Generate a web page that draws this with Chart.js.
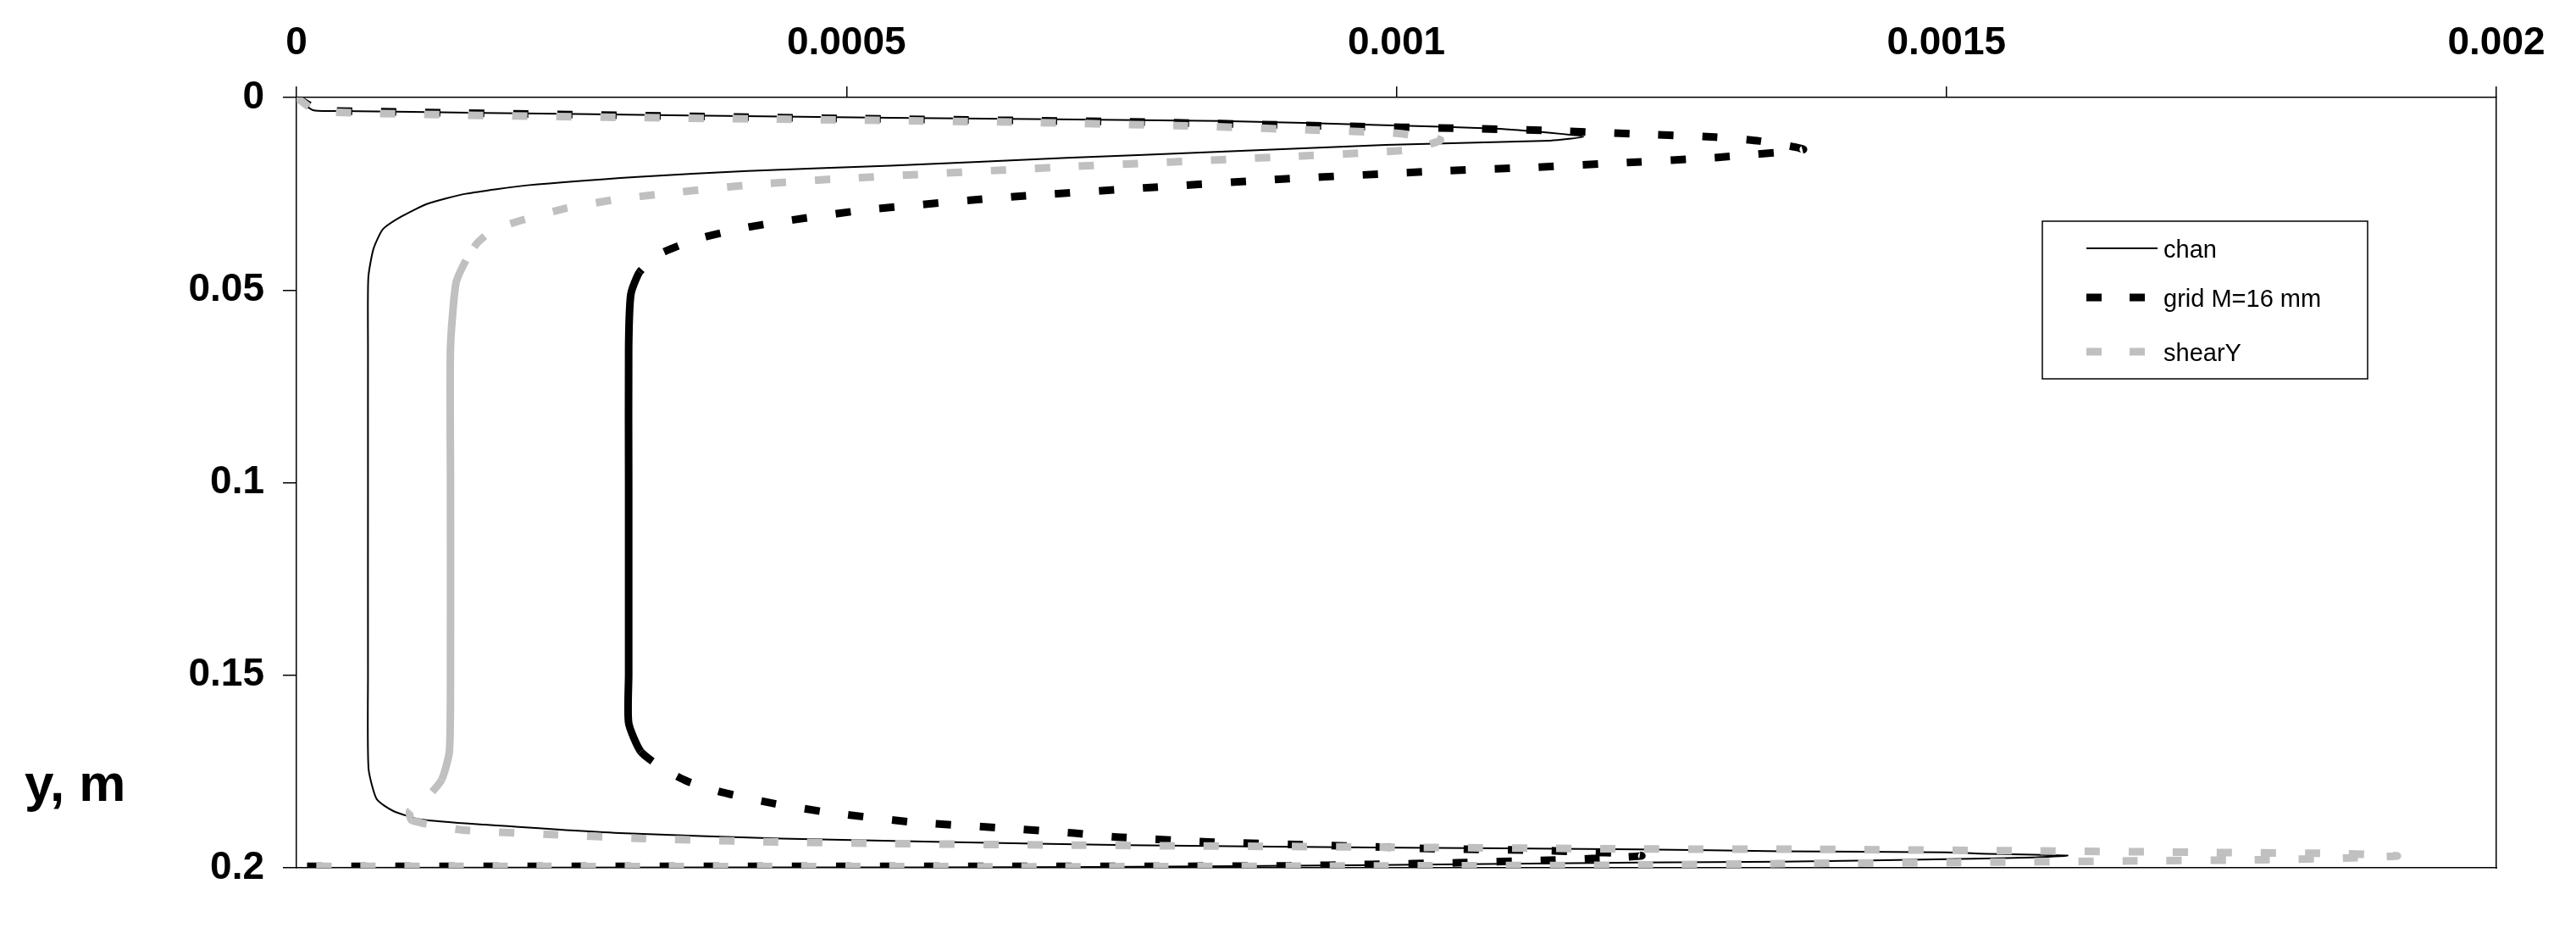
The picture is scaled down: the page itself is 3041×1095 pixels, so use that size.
<!DOCTYPE html>
<html>
<head>
<meta charset="utf-8">
<script src="https://cdn.jsdelivr.net/npm/chart.js@4.4.1/dist/chart.umd.min.js"></script>
<style>
  html, body { margin: 0; padding: 0; background: #fff; }
  #wrap { width: 3041px; height: 1095px; }
</style>
</head>
<body>
<div id="wrap"><canvas id="profile" width="3041" height="1095"></canvas></div>
<script>
// ========== DATA ==========
const seriesNames = ['chan', 'grid M=16 mm', 'shearY'];

const chanX = [0, 0.000015, 0.00004, 0.00017, 0.00034, 0.00054, 0.00084, 0.00099, 0.00109, 0.00114, 0.00117,
  0.00114, 0.00099, 0.00084, 0.0007, 0.00054, 0.00041, 0.00031, 0.00021, 0.000154, 0.000119, 0.0000955,
  0.0000786, 0.00007, 0.0000653, 0.000065, 0.000065, 0.000065, 0.0000655, 0.000073, 0.0000877, 0.000112,
  0.000171, 0.000294, 0.000441, 0.000589, 0.000756, 0.000977, 0.00122, 0.00135, 0.0015, 0.00153, 0.00161,
  0.00158, 0.00149, 0.00135, 0.00122, 0.00098, 0.00073, 0.0004, 0];
const chanY = [0, 0.0033, 0.0035, 0.004, 0.0046, 0.0053, 0.0061, 0.0072, 0.0081, 0.0092, 0.0102,
  0.0112, 0.0123, 0.0141, 0.0157, 0.0177, 0.0191, 0.0206, 0.0228, 0.025, 0.0276, 0.0309,
  0.0342, 0.0393, 0.0468, 0.065, 0.1, 0.15, 0.1742, 0.1822, 0.1852, 0.1874,
  0.1888, 0.191, 0.1924, 0.1933, 0.1941, 0.1947, 0.1952, 0.1957, 0.196, 0.1963, 0.1968,
  0.1973, 0.1978, 0.1984, 0.1986, 0.1993, 0.1998, 0.1999, 0.2];

const gridX = [0, 0.00002, 0.00003, 0.00051, 0.00075, 0.00094, 0.00107, 0.00114, 0.00123, 0.00129, 0.00133, 0.00137,
  0.00132, 0.00129, 0.00121, 0.00112, 0.00104, 0.00089, 0.00077, 0.00065, 0.00052, 0.000446, 0.000408,
  0.000364, 0.000329, 0.000312, 0.000304, 0.000302, 0.000302, 0.000302, 0.000302, 0.000313, 0.000333,
  0.000355, 0.000387, 0.000434, 0.000481, 0.000559, 0.000638, 0.000707, 0.000746, 0.000829, 0.000928,
  0.001045, 0.001124, 0.001163, 0.001203, 0.001223, 0.001178, 0.001139, 0.001055, 0.000977, 0.000898,
  0.00078, 0];
const gridY = [0, 0.0033, 0.0035, 0.0055, 0.0063, 0.0074, 0.0081, 0.0086, 0.0096, 0.0103, 0.0113, 0.0135,
  0.0149, 0.0156, 0.0169, 0.0182, 0.0191, 0.0213, 0.0235, 0.0258, 0.0291, 0.032, 0.0338,
  0.0368, 0.0408, 0.0453, 0.0511, 0.065, 0.1, 0.15, 0.1624, 0.1698, 0.1742,
  0.1775, 0.1804, 0.1833, 0.1855, 0.1881, 0.1896, 0.191, 0.192, 0.1933, 0.1941,
  0.1951, 0.1954, 0.1958, 0.1962, 0.1969, 0.1976, 0.198, 0.1987, 0.1991, 0.1995,
  0.1996, 0.1996];

const shearX = [0, 0.00002, 0.00054, 0.00065, 0.0008, 0.00092, 0.001, 0.00104,
  0.00101, 0.00089, 0.0007, 0.0005, 0.00042, 0.00034, 0.00029, 0.00024, 0.00018, 0.000164,
  0.000154, 0.000145, 0.00014, 0.00014, 0.00014, 0.000139, 0.000132, 0.000117, 0.000103,
  0.000105, 0.000152, 0.000237, 0.000316, 0.000437, 0.00054, 0.0007, 0.00098, 0.00122,
  0.00138, 0.00158, 0.00174, 0.00186, 0.00191, 0.00187, 0.00179, 0.00167, 0.00151,
  0.00135, 0.00122, 0.00098, 0.00073, 0];
const shearY = [0, 0.0037, 0.006, 0.0064, 0.0073, 0.0084, 0.0093, 0.011,
  0.0136, 0.0155, 0.018, 0.021, 0.0225, 0.0248, 0.0265, 0.0291, 0.0342, 0.0379,
  0.0423, 0.0482, 0.065, 0.1, 0.15, 0.1698, 0.1771, 0.1822, 0.1852,
  0.1877, 0.1902, 0.1914, 0.1924, 0.1933, 0.1937, 0.1941, 0.1946, 0.1951,
  0.1952, 0.1956, 0.196, 0.1963, 0.1969, 0.1974, 0.1979, 0.1982, 0.1986,
  0.1989, 0.1993, 0.1995, 0.1997, 0.1996];

const xTickValues = [0, 0.0005, 0.001, 0.0015, 0.002];
const xTickLabels = ['0', '0.0005', '0.001', '0.0015', '0.002'];
const yTickValues = [0, 0.05, 0.1, 0.15, 0.2];
const yTickLabels = ['0', '0.05', '0.1', '0.15', '0.2'];
const yAxisTitle = 'y, m';

// ========== HELPERS ==========
function toPoints(xs, ys) {
    return xs.map((x, i) => ({ x: x, y: ys[i] }));
}

// label for the nearest listed tick value
function labelFor(values, labels) {
    return v => {
        let best = 0;
        values.forEach((t, i) => {
            if (Math.abs(t - v) < Math.abs(values[best] - v)) best = i;
        });
        return labels[best];
    };
}

// Excel restarts the dash on every segment, so the dense steep parts look solid
function excelDash(pattern) {
    return ctx => {
        const dx = Math.abs(ctx.p1.x - ctx.p0.x);
        const dy = Math.abs(ctx.p1.y - ctx.p0.y);
        return dy > 2 * dx ? [] : pattern;
    };
}

const DASH = [18, 34];
const FONT = '"Liberation Sans", Arial, sans-serif';

// ========== LEGEND BOX ==========
const boxLegend = {
    id: 'boxLegend',
    afterDatasetsDraw(chart) {
        const c = chart.ctx;
        const area = chart.chartArea;
        const left = area.right - 536;
        const top = area.top + 146;
        c.save();
        c.fillStyle = '#fff';
        c.fillRect(left, top, 384, 186);
        c.strokeStyle = '#000';
        c.lineWidth = 1.5;
        c.strokeRect(left, top, 384, 186);
        const rows = [32, 90, 154];
        chart.data.datasets.forEach((ds, i) => {
            const y = top + rows[i];
            c.beginPath();
            c.strokeStyle = ds.borderColor;
            c.lineWidth = ds.borderWidth;
            c.lineCap = 'butt';
            c.setLineDash(ds.legendDash || []);
            c.moveTo(left + 52, y);
            c.lineTo(left + 136, y);
            c.stroke();
            c.setLineDash([]);
            c.fillStyle = '#000';
            c.font = '29px ' + FONT;
            c.textBaseline = 'alphabetic';
            c.textAlign = 'left';
            c.fillText(ds.label, left + 143, y + 11);
        });
        c.restore();
    }
};

// ========== Y TITLE ==========
const yTitle = {
    id: 'yTitle',
    afterDraw(chart) {
        const c = chart.ctx;
        c.save();
        c.fillStyle = '#000';
        c.font = 'bold 62px ' + FONT;
        c.textAlign = 'left';
        c.textBaseline = 'alphabetic';
        c.fillText(yAxisTitle, 29, 945);
        c.restore();
    }
};

// ========== CHART ==========
const frame = { display: true, color: '#000', width: 1.5 };
const tickFont = { family: FONT, size: 46, weight: 'bold' };

new Chart(document.getElementById('profile'), {
    type: 'scatter',
    data: {
        datasets: [
            {
                label: seriesNames[0],
                data: toPoints(chanX, chanY),
                borderColor: '#000',
                borderWidth: 2,
                order: 3
            },
            {
                label: seriesNames[1],
                data: toPoints(gridX, gridY),
                borderColor: '#000',
                borderWidth: 9,
                legendDash: [18, 33],
                segment: { borderDash: excelDash(DASH) },
                order: 2
            },
            {
                label: seriesNames[2],
                data: toPoints(shearX, shearY),
                borderColor: '#c0c0c0',
                borderWidth: 9,
                legendDash: [18, 33],
                segment: { borderDash: excelDash(DASH) },
                order: 1
            }
        ]
    },
    options: {
        responsive: false,
        devicePixelRatio: 1,
        animation: false,
        layout: { padding: { left: 0, top: 0, right: 94, bottom: 71 } },
        datasets: {
            scatter: {
                showLine: true,
                pointRadius: 0,
                pointHoverRadius: 0,
                tension: 0.2,
                fill: false,
                borderCapStyle: 'butt',
                borderJoinStyle: 'round'
            }
        },
        plugins: {
            legend: { display: false },
            tooltip: { enabled: false }
        },
        scales: {
            x: {
                type: 'linear',
                position: 'top',
                min: 0,
                max: 0.002,
                afterFit: s => { s.height = 115; },
                ticks: {
                    stepSize: 0.0005,
                    color: '#000',
                    padding: 23,
                    maxRotation: 0,
                    font: tickFont,
                    callback: labelFor(xTickValues, xTickLabels)
                },
                grid: { drawOnChartArea: false, drawTicks: true, tickLength: 13, color: '#000', lineWidth: 1.5 },
                border: frame
            },
            y: {
                type: 'linear',
                position: 'left',
                reverse: true,
                min: 0,
                max: 0.2,
                afterFit: s => { s.width = 350; },
                ticks: {
                    stepSize: 0.05,
                    color: '#000',
                    padding: 22,
                    font: tickFont,
                    callback: labelFor(yTickValues, yTickLabels)
                },
                grid: { drawOnChartArea: false, drawTicks: true, tickLength: 16, color: '#000', lineWidth: 1.5 },
                border: frame
            },
            xFrame: {
                type: 'linear',
                position: 'bottom',
                min: 0,
                max: 0.002,
                afterFit: s => { s.height = 0; },
                ticks: { display: false },
                grid: { display: false },
                border: frame
            },
            yFrame: {
                type: 'linear',
                position: 'right',
                min: 0,
                max: 0.2,
                afterFit: s => { s.width = 0; },
                ticks: { display: false },
                grid: { display: false },
                border: frame
            }
        }
    },
    plugins: [boxLegend, yTitle]
});
</script>
</body>
</html>
